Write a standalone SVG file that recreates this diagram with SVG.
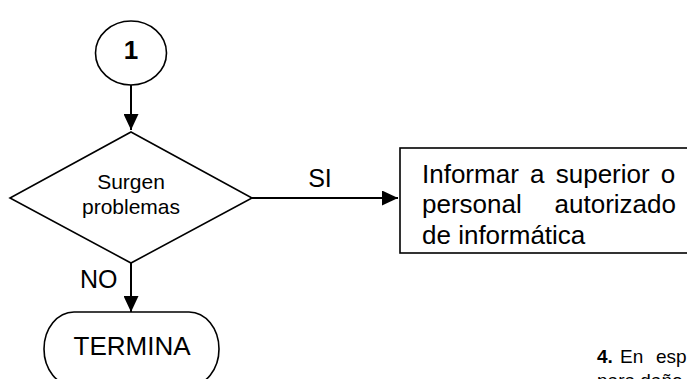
<svg xmlns="http://www.w3.org/2000/svg" width="687" height="379" viewBox="0 0 687 379">
<defs>
<style>
.shape{fill:#ffffff;stroke:#000000;stroke-width:1.6}
.conn{fill:none;stroke:#000000;stroke-width:2}
text{font-family:"Liberation Sans",Arial,sans-serif;fill:#000000}
</style>
<marker id="arr" markerUnits="userSpaceOnUse" markerWidth="16" markerHeight="15" viewBox="0 0 16 15" refX="16" refY="7.5" orient="auto">
<path d="M0,0 L16,7.5 L0,15 z" fill="#000000"/>
</marker>
</defs>
<rect x="0" y="0" width="687" height="379" fill="#ffffff"/>
<g id="connectors">
<line class="conn" x1="131" y1="85" x2="131" y2="130" marker-end="url(#arr)"/>
<line class="conn" x1="252" y1="198" x2="398" y2="198" marker-end="url(#arr)"/>
<line class="conn" x1="131" y1="263" x2="131" y2="312" marker-end="url(#arr)"/>
<text x="320" y="187" font-size="25" text-anchor="middle">SI</text>
<text x="80" y="288" font-size="25">NO</text>
</g>
<g id="node-start">
<ellipse class="shape" cx="131" cy="53" rx="35.5" ry="32"/>
<text x="131" y="59" font-size="26" font-weight="bold" text-anchor="middle">1</text>
</g>
<g id="node-decision">
<polygon class="shape" points="131,132 252,198 131,263 10,198"/>
<text x="131" y="189" font-size="21" text-anchor="middle">Surgen</text>
<text x="131" y="214" font-size="21" text-anchor="middle">problemas</text>
</g>
<g id="node-informar">
<rect class="shape" x="400" y="148" width="300" height="105"/>
<text x="422" y="183" font-size="26" word-spacing="4">Informar a superior o</text>
<text x="422" y="213" font-size="26">personal</text>
<text x="676" y="213" font-size="26" text-anchor="end">autorizado</text>
<text x="422" y="244" font-size="26">de informática</text>
</g>
<g id="node-termina">
<rect class="shape" x="44" y="312" width="175" height="74" rx="30" ry="37"/>
<text x="132" y="355" font-size="26" text-anchor="middle">TERMINA</text>
</g>
<g id="side-text">
<text x="597" y="363" font-size="19"><tspan font-weight="bold">4.</tspan><tspan x="620">En</tspan><tspan x="656">esp</tspan></text>
<text x="597" y="387" font-size="19">para daño</text>
</g>
</svg>
